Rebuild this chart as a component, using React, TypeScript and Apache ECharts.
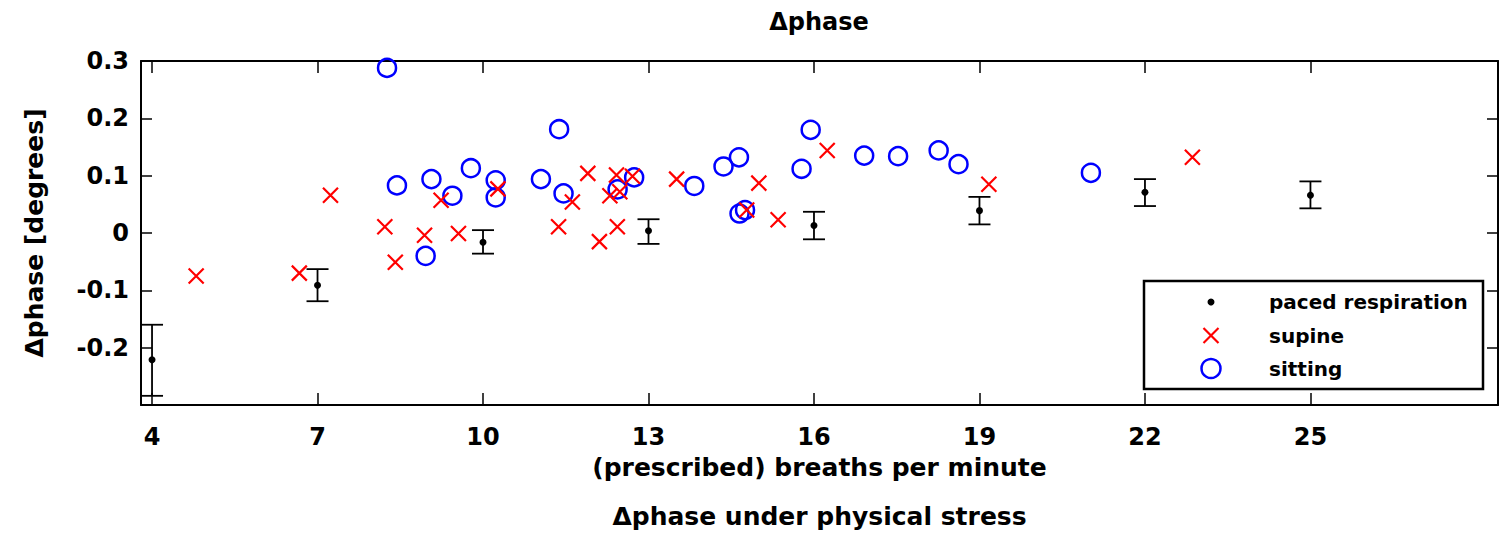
import React, { useEffect, useRef } from 'react';
import * as echarts from 'echarts';

const FONT = '"DejaVu Sans", sans-serif';

const titleText = 'Δphase';
const xName = '(prescribed) breaths per minute';
const xSubName = 'Δphase under physical stress';
const yName = 'Δphase [degrees]';
const legendLabels = ['paced respiration', 'supine', 'sitting'];

const xTicks = [4, 7, 10, 13, 16, 19, 22, 25];
const yTickLabels = [-0.2, -0.1, 0, 0.1, 0.2, 0.3];

const pacedX = [4, 7, 10, 13, 16, 19, 22, 25];
const pacedY = [-0.221, -0.091, -0.016, 0.004, 0.013, 0.039, 0.071, 0.066];
const pacedUpper = [-0.16, -0.063, 0.005, 0.024, 0.037, 0.063, 0.094, 0.09];
const pacedLower = [-0.284, -0.119, -0.036, -0.019, -0.011, 0.015, 0.047, 0.043];

const supineX = [4.8, 6.67, 7.235, 8.22, 8.41, 8.94, 9.555, 9.24, 10.27, 11.37, 11.62, 11.9, 12.11, 12.3, 12.42, 12.435, 12.48, 12.71, 13.51, 14.78, 15.0, 15.35, 16.24, 19.17, 22.86];
const supineY = [-0.075, -0.07, 0.066, 0.011, -0.051, -0.004, -0.001, 0.057, 0.077, 0.011, 0.054, 0.104, -0.015, 0.065, 0.101, 0.011, 0.072, 0.099, 0.094, 0.04, 0.087, 0.023, 0.144, 0.085, 0.132];

const sittingX = [8.26, 8.44, 8.96, 9.065, 9.445, 9.78, 10.23, 10.23, 11.05, 11.38, 11.46, 12.44, 12.74, 13.83, 14.36, 14.64, 14.65, 14.75, 15.775, 15.94, 16.91, 17.525, 18.26, 18.62, 21.02];
const sittingY = [0.288, 0.083, -0.04, 0.094, 0.065, 0.113, 0.092, 0.062, 0.094, 0.181, 0.069, 0.076, 0.097, 0.082, 0.116, 0.132, 0.034, 0.04, 0.112, 0.18, 0.135, 0.134, 0.144, 0.12, 0.105];

const RED = '#ff0000';
const BLUE = '#0000ff';
const crossSymbol = 'path://M0,0L10,10M10,0L0,10';

function buildLegend() {
  const left = 1144;
  const top = 281;
  const w = 339;
  const h = 108;
  const iconX = 1211;
  const textX = 1269;
  const rows = [302, 335.5, 368.5];
  const textStyle = (text: string, y: number) => ({
    type: 'text',
    x: textX,
    y,
    z: 102,
    style: {
      text,
      fill: '#000',
      font: `bold 20px ${FONT}`,
      textAlign: 'left',
      textVerticalAlign: 'middle',
    },
  });
  return [
    {
      type: 'rect',
      z: 100,
      shape: { x: left, y: top, width: w, height: h },
      style: { fill: '#fff', stroke: '#000', lineWidth: 2.5 },
    },
    { type: 'circle', z: 101, shape: { cx: iconX, cy: rows[0], r: 3.5 }, style: { fill: '#000' } },
    {
      type: 'line',
      z: 101,
      shape: { x1: iconX - 7.5, y1: rows[1] - 7.5, x2: iconX + 7.5, y2: rows[1] + 7.5 },
      style: { stroke: RED, lineWidth: 2.2 },
    },
    {
      type: 'line',
      z: 101,
      shape: { x1: iconX + 7.5, y1: rows[1] - 7.5, x2: iconX - 7.5, y2: rows[1] + 7.5 },
      style: { stroke: RED, lineWidth: 2.2 },
    },
    {
      type: 'circle',
      z: 101,
      shape: { cx: iconX, cy: rows[2], r: 9.5 },
      style: { fill: 'none', stroke: BLUE, lineWidth: 2.5 },
    },
    textStyle(legendLabels[0], rows[0]),
    textStyle(legendLabels[1], rows[1]),
    textStyle(legendLabels[2], rows[2]),
  ];
}

export default function App() {
  const ref = useRef<HTMLDivElement>(null);
  useEffect(() => {
    const chart = echarts.init(ref.current!, null, { renderer: 'svg' });
    const axisLine = { show: true, onZero: false, lineStyle: { color: '#000', width: 2 } };
    const tickStyle = { color: '#000', width: 1.5 };
    const labelStyle = { color: '#000', fontFamily: FONT, fontWeight: 'bold' as const, fontSize: 24 };
    const option: any = {
      animation: false,
      backgroundColor: '#fff',
      grid: { left: 141, right: 1, top: 61, bottom: 128, containLabel: false, outerBoundsMode: 'none' },
      graphic: [
        {
          type: 'text',
          x: 819,
          y: 22,
          style: {
            text: titleText,
            fill: '#000',
            font: `bold 24px ${FONT}`,
            textAlign: 'center',
            textVerticalAlign: 'middle',
          },
        },
        ...buildLegend(),
      ],
      xAxis: [
        {
          type: 'value',
          min: 3.8,
          max: 28.4,
          position: 'bottom',
          axisLine,
          axisTick: { show: true, inside: true, length: 12, customValues: xTicks, lineStyle: tickStyle },
          axisLabel: { ...labelStyle, margin: 20, customValues: xTicks },
          splitLine: { show: false },
          name: xName + '\n' + xSubName,
          nameLocation: 'middle',
          nameGap: 38,
          nameMoveOverlap: false,
          nameTextStyle: { color: '#000', fontFamily: FONT, fontWeight: 'bold', fontSize: 25, lineHeight: 49 },
        },
        {
          type: 'value',
          min: 3.8,
          max: 28.4,
          position: 'top',
          axisLine,
          axisTick: { show: true, inside: true, length: 12, customValues: xTicks, lineStyle: tickStyle },
          axisLabel: { show: false },
          splitLine: { show: false },
        },
      ],
      yAxis: [
        {
          type: 'value',
          min: -0.3,
          max: 0.3,
          interval: 0.1,
          position: 'left',
          axisLine,
          axisTick: { show: true, inside: true, length: 11, lineStyle: tickStyle },
          axisLabel: { ...labelStyle, margin: 12, customValues: yTickLabels },
          splitLine: { show: false },
          name: yName,
          nameLocation: 'middle',
          nameRotate: 90,
          nameGap: 94,
          nameMoveOverlap: false,
          nameTextStyle: { color: '#000', fontFamily: FONT, fontWeight: 'bold', fontSize: 25 },
        },
        {
          type: 'value',
          min: -0.3,
          max: 0.3,
          interval: 0.1,
          position: 'right',
          axisLine,
          axisTick: { show: true, inside: true, length: 11, lineStyle: tickStyle },
          axisLabel: { show: false },
          splitLine: { show: false },
        },
      ],
      series: [
        {
          name: 'sitting',
          type: 'scatter',
          xAxisIndex: 0,
          yAxisIndex: 0,
          symbol: 'circle',
          symbolSize: 18,
          z: 2,
          itemStyle: { color: 'rgba(0,0,0,0)', borderColor: BLUE, borderWidth: 2.5, opacity: 1 },
          emphasis: { disabled: true },
          data: sittingX.map((x, i) => [x, sittingY[i]]),
        },
        {
          name: 'supine',
          type: 'scatter',
          xAxisIndex: 0,
          yAxisIndex: 0,
          symbol: crossSymbol,
          symbolSize: 15,
          z: 3,
          itemStyle: { color: RED, borderColor: RED, borderWidth: 2.2, opacity: 1 },
          emphasis: { disabled: true },
          data: supineX.map((x, i) => [x, supineY[i]]),
        },
        {
          name: 'paced respiration range',
          type: 'custom',
          xAxisIndex: 0,
          yAxisIndex: 0,
          z: 4,
          encode: { x: 0, y: [1, 2, 3] },
          data: pacedX.map((x, i) => [x, pacedLower[i], pacedUpper[i], pacedY[i]]),
          renderItem: (params: any, api: any) => {
            const x = api.value(0);
            const lo = api.coord([x, api.value(1)]);
            const hi = api.coord([x, api.value(2)]);
            const hw = 11;
            const style = { stroke: '#000', lineWidth: 1.8, fill: 'none' };
            return {
              type: 'group',
              children: [
                { type: 'line', shape: { x1: lo[0], y1: lo[1], x2: hi[0], y2: hi[1] }, style },
                { type: 'line', shape: { x1: lo[0] - hw, y1: lo[1], x2: lo[0] + hw, y2: lo[1] }, style },
                { type: 'line', shape: { x1: hi[0] - hw, y1: hi[1], x2: hi[0] + hw, y2: hi[1] }, style },
              ],
            };
          },
        },
        {
          name: 'paced respiration',
          type: 'scatter',
          xAxisIndex: 0,
          yAxisIndex: 0,
          symbol: 'circle',
          symbolSize: 7,
          z: 5,
          itemStyle: { color: '#000', opacity: 1 },
          emphasis: { disabled: true },
          data: pacedX.map((x, i) => [x, pacedY[i]]),
        },
      ],
    };
    chart.setOption(option);
    return () => chart.dispose();
  }, []);
  return (
    <div
      ref={ref}
      style={{ position: 'fixed', left: 0, top: 0, width: 1499, height: 533, background: '#fff' }}
    />
  );
}
